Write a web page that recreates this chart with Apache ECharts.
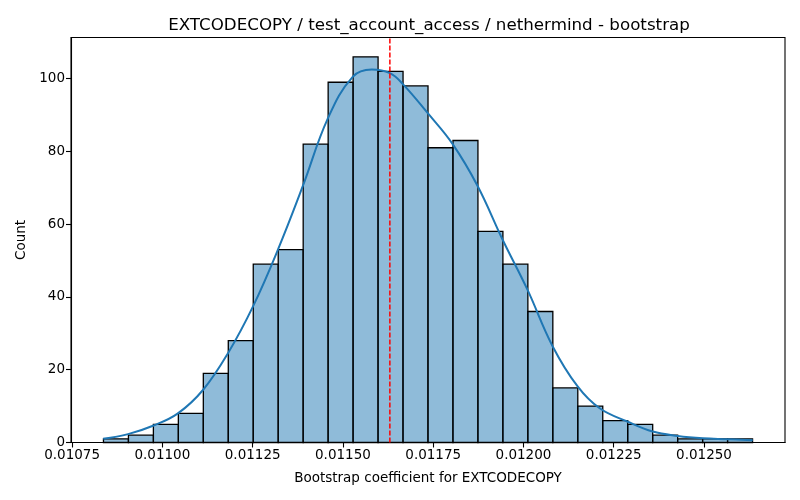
<!DOCTYPE html>
<html lang="en">
<head>
    <meta charset="UTF-8">
    <title>EXTCODECOPY bootstrap</title>
    <script src="https://cdn.jsdelivr.net/npm/echarts@6/dist/echarts.min.js"></script>
    <style>
        html, body { margin: 0; padding: 0; background: #fff; }
        #chart { width: 800px; height: 500px; }
    </style>
</head>
<body>
    <div id="chart"></div>
    <script>
        // histogram bins (left edge of first bin, bin width) and counts
        const binStart = 0.0108368
        const binWidth = 0.00006914
        const counts = [1, 2, 5, 8, 19, 28, 49, 53, 82, 99, 106, 102, 98,
                        81, 83, 58, 49, 36, 15, 10, 6, 5, 2, 1, 1, 1]

        // kde curve
        const kdeX = [0.010836, 0.010905, 0.010974, 0.011043, 0.011113, 0.011182,
                      0.011251, 0.011320, 0.011389, 0.011458, 0.011527, 0.011580,
                      0.011630, 0.011666, 0.011735, 0.011804, 0.011873, 0.011942,
                      0.012011, 0.012081, 0.012150, 0.012211, 0.012289, 0.012358,
                      0.012427, 0.012497, 0.012566, 0.012635]
        const kdeY = [1.0, 2.3, 4.6, 8.0, 14.5, 24.6, 37.4, 53.0, 70.5, 89.0, 100.5, 102.5,
                      101.5, 98.5, 90.5, 82.0, 70.5, 55.8, 42.0, 26.4, 15.4, 9.4, 5.7, 3.0,
                      1.8, 1.15, 0.9, 0.6]

        const meanValue = 0.01163
        const yMax = 111.3
        const xTicks = [0.01075, 0.01100, 0.01125, 0.01150, 0.01175, 0.01200, 0.01225, 0.01250]
        const yTicks = [0, 20, 40, 60, 80, 100]

        const bars = counts.map((c, i) => [binStart + i * binWidth, binStart + (i + 1) * binWidth, c])
        const kde = kdeX.map((x, i) => [x, kdeY[i]])

        const font = "DejaVu Sans"
        const chart = echarts.init(document.getElementById("chart"))
        chart.setOption({
            animation: false,
            title: {
                text: "EXTCODECOPY / test_account_access / nethermind - bootstrap",
                left: 424, top: 12, textAlign: "center",
                textStyle: { fontFamily: font, fontSize: 16.7, fontWeight: "normal", color: "#000" }
            },
            grid: {
                left: 71, right: 15, top: 37.5, bottom: 57.5,
                show: true, borderColor: "#000", borderWidth: 1.1, backgroundColor: "transparent"
            },
            xAxis: {
                type: "value",
                min: 0.0107469, max: 0.0127243,
                name: "Bootstrap coefficient for EXTCODECOPY",
                nameLocation: "middle", nameGap: 29,
                nameTextStyle: { fontFamily: font, fontSize: 13.5, color: "#000" },
                axisLine: { lineStyle: { color: "#000", width: 1.1 } },
                axisTick: { show: true, length: 5, lineStyle: { color: "#000", width: 1.1 }, customValues: xTicks },
                axisLabel: {
                    fontFamily: font, fontSize: 13.5, color: "#000", margin: 6,
                    customValues: xTicks,
                    formatter: v => v.toFixed(5)
                },
                splitLine: { show: false }
            },
            yAxis: {
                type: "value",
                min: 0, max: yMax,
                name: "Count",
                nameLocation: "middle", nameGap: 42,
                nameTextStyle: { fontFamily: font, fontSize: 13.5, color: "#000" },
                axisLine: { show: true, lineStyle: { color: "#000", width: 1.1 } },
                axisTick: { show: true, length: 5, lineStyle: { color: "#000", width: 1.1 }, customValues: yTicks },
                axisLabel: { fontFamily: font, fontSize: 13.5, color: "#000", margin: 6, customValues: yTicks },
                splitLine: { show: false }
            },
            series: [
                {
                    type: "custom",
                    data: bars,
                    encode: { x: [0, 1], y: 2 },
                    z: 2,
                    renderItem: (params, api) => {
                        const p0 = api.coord([api.value(0), api.value(2)])
                        const p1 = api.coord([api.value(1), 0])
                        return {
                            type: "rect",
                            shape: { x: p0[0], y: p0[1], width: p1[0] - p0[0], height: p1[1] - p0[1] },
                            style: { fill: "rgba(31,119,180,0.5)", stroke: "#000", lineWidth: 1.3 }
                        }
                    }
                },
                {
                    type: "line",
                    data: kde,
                    smooth: 0.4,
                    showSymbol: false,
                    lineStyle: { color: "#1f77b4", width: 2 },
                    z: 3
                },
                {
                    // mean marker
                    type: "line",
                    data: [[meanValue, 0], [meanValue, yMax]],
                    showSymbol: false,
                    lineStyle: { color: "#ff0000", width: 1.5, type: [5, 2] },
                    z: 4
                }
            ]
        })
    </script>
</body>
</html>
